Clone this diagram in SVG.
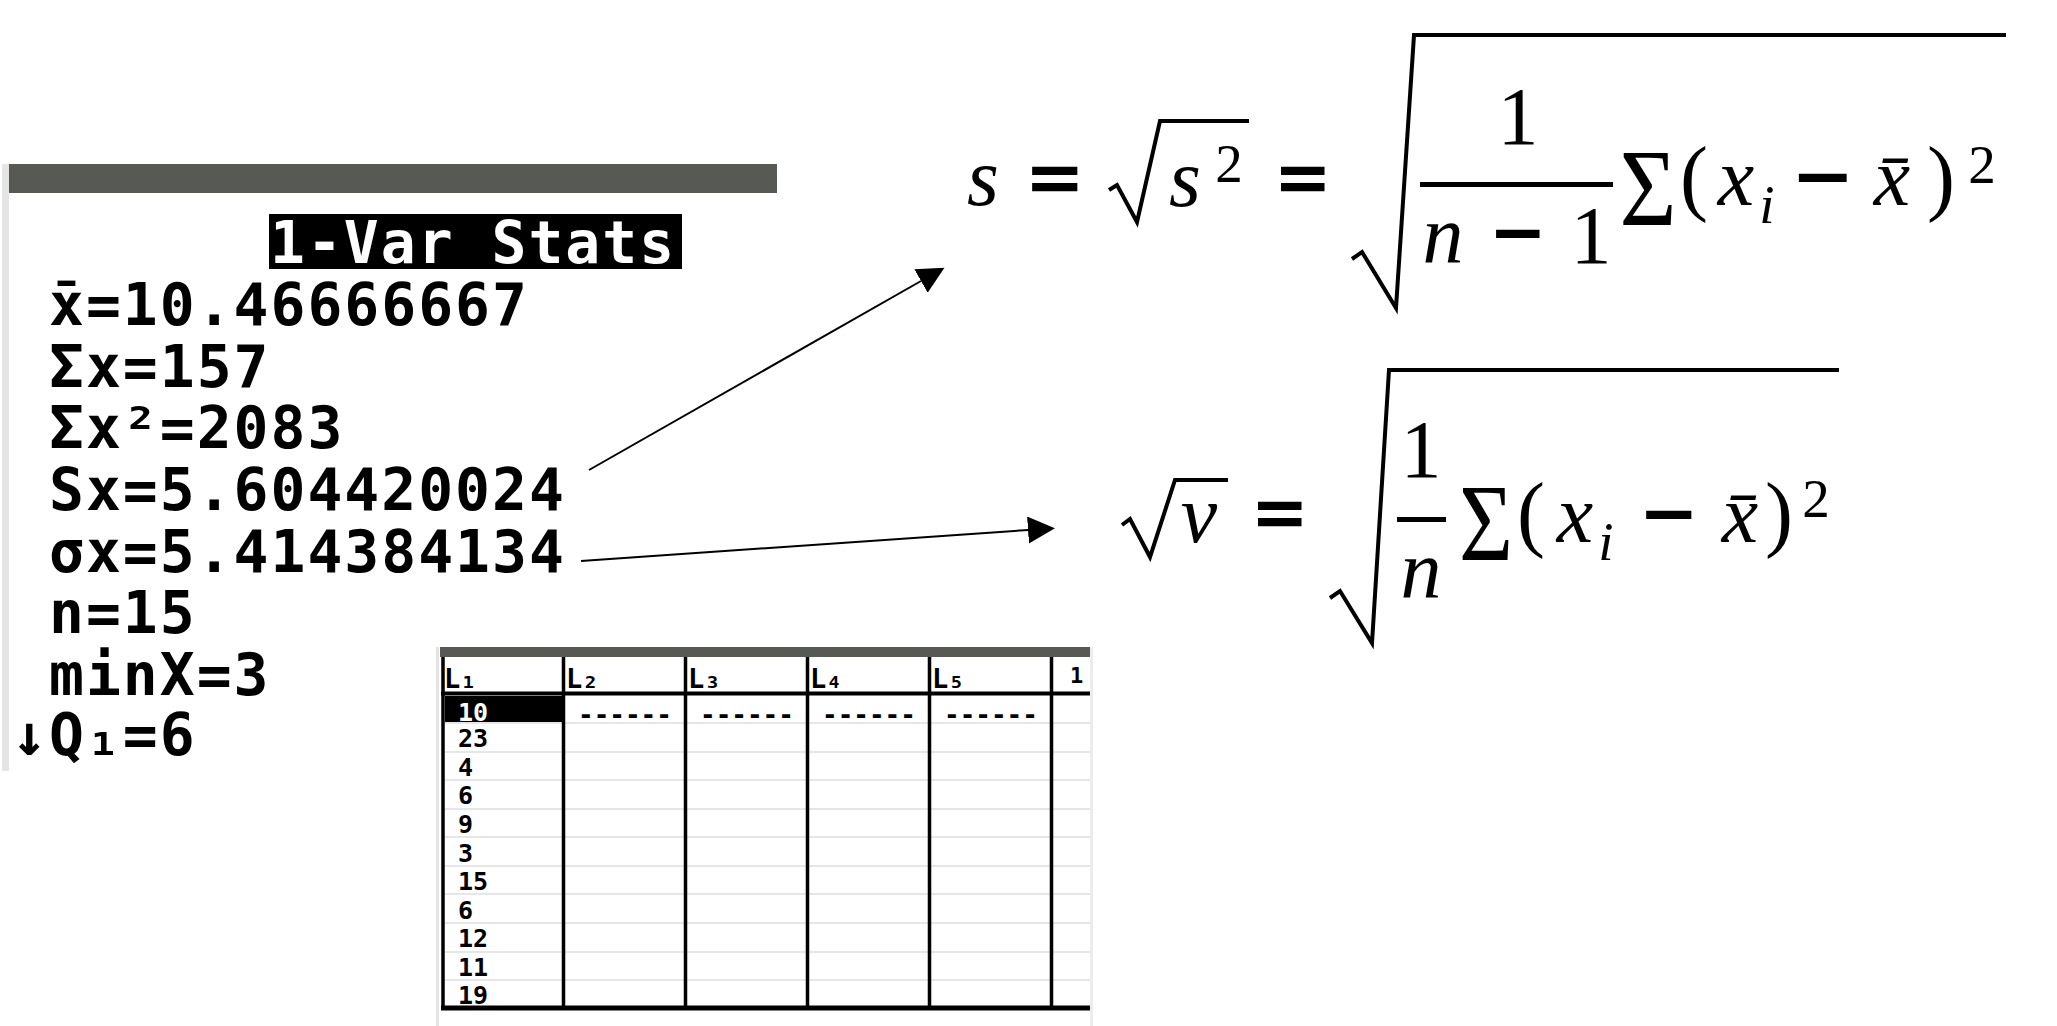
<svg xmlns="http://www.w3.org/2000/svg" width="2057" height="1026" viewBox="0 0 2057 1026">
<style>
.ti{font-family:"DejaVu Sans Mono","Liberation Mono",monospace;font-weight:bold;font-size:58px;letter-spacing:2px;fill:#000}
.tis{font-family:"DejaVu Sans Mono","Liberation Mono",monospace;font-weight:bold;font-size:25px;fill:#000}
.hdr{font-family:"DejaVu Sans Mono","Liberation Mono",monospace;font-weight:bold;font-size:27px;fill:#000}
.m{font-family:"Liberation Serif","DejaVu Serif",serif;font-size:82px;fill:#000;text-anchor:middle}
.mi{font-style:italic}
.mo{font-weight:bold;stroke:#000;stroke-width:2.5}
.sup{font-size:55px}
.par{font-size:84px}
.sig{font-size:110px}
.rad{fill:none;stroke:#000;stroke-width:4;stroke-linejoin:miter}
.bar{stroke:#000;stroke-width:5}
.vl{stroke:#000;stroke-width:3.5}
.rl{stroke:#e6e6e6;stroke-width:2}
.conn{stroke:#000;stroke-width:2;fill:none}
</style>
<defs>
<marker id="ah" markerUnits="userSpaceOnUse" markerWidth="28" markerHeight="28" refX="0" refY="13.5" orient="auto">
<path d="M0,0 L27,13.5 L0,27 z" fill="#000"/>
</marker>
</defs>
<rect width="2057" height="1026" fill="#fff"/>

<g id="calc-stats">
<rect x="2" y="164" width="7" height="607" fill="#e4e4e4"/>
<rect x="9" y="164" width="768" height="29" fill="#575955"/>
<rect x="269" y="214" width="413" height="55" fill="#000"/>
<text class="ti" x="270" y="263" style="fill:#fff">1-Var Stats</text>
<text class="ti" x="49" y="325">x̄=10.46666667</text>
<text class="ti" x="49" y="387">Σx=157</text>
<text class="ti" x="49" y="448">Σx²=2083</text>
<text class="ti" x="49" y="510">Sx=5.604420024</text>
<text class="ti" x="49" y="572">σx=5.414384134</text>
<text class="ti" x="49" y="633">n=15</text>
<text class="ti" x="49" y="695">minX=3</text>
<text class="ti" x="12" y="755">↓Q₁=6</text>
</g>

<g id="list-editor">
<line x1="437.5" y1="647" x2="437.5" y2="1026" stroke="#e3e3e3" stroke-width="3"/>
<line x1="1091.5" y1="647" x2="1091.5" y2="1026" stroke="#ececec" stroke-width="3"/>
<rect x="440" y="647" width="650" height="10" fill="#575955"/>
<g>
<line class="rl" x1="444" y1="723" x2="1090" y2="723"/>
<line class="rl" x1="444" y1="752" x2="1090" y2="752"/>
<line class="rl" x1="444" y1="780" x2="1090" y2="780"/>
<line class="rl" x1="444" y1="809" x2="1090" y2="809"/>
<line class="rl" x1="444" y1="837" x2="1090" y2="837"/>
<line class="rl" x1="444" y1="866" x2="1090" y2="866"/>
<line class="rl" x1="444" y1="894" x2="1090" y2="894"/>
<line class="rl" x1="444" y1="923" x2="1090" y2="923"/>
<line class="rl" x1="444" y1="952" x2="1090" y2="952"/>
<line class="rl" x1="444" y1="980" x2="1090" y2="980"/>
</g>
<rect x="445" y="696" width="117" height="26" fill="#000"/>
<line class="vl" x1="443" y1="657" x2="443" y2="1010"/>
<line class="vl" x1="563.5" y1="657" x2="563.5" y2="1010"/>
<line class="vl" x1="685.5" y1="657" x2="685.5" y2="1010"/>
<line class="vl" x1="807.5" y1="657" x2="807.5" y2="1010"/>
<line class="vl" x1="929.5" y1="657" x2="929.5" y2="1010"/>
<line class="vl" x1="1051.5" y1="657" x2="1051.5" y2="1010"/>
<line x1="441" y1="693.5" x2="1090" y2="693.5" stroke="#000" stroke-width="4"/>
<line x1="441" y1="1008" x2="1090" y2="1008" stroke="#000" stroke-width="5"/>
<text class="hdr" x="444" y="688">L₁</text>
<text class="hdr" x="566" y="688">L₂</text>
<text class="hdr" x="688" y="688">L₃</text>
<text class="hdr" x="810" y="688">L₄</text>
<text class="hdr" x="932" y="688">L₅</text>
<text class="tis" x="1070" y="683" style="font-size:22px">1</text>
<text class="tis" x="458" y="721" style="fill:#fff">10</text>
<text class="tis" x="458" y="747">23</text>
<text class="tis" x="458" y="776">4</text>
<text class="tis" x="458" y="804">6</text>
<text class="tis" x="458" y="833">9</text>
<text class="tis" x="458" y="862">3</text>
<text class="tis" x="458" y="890">15</text>
<text class="tis" x="458" y="919">6</text>
<text class="tis" x="458" y="947">12</text>
<text class="tis" x="458" y="976">11</text>
<text class="tis" x="458" y="1004">19</text>
<text class="tis" x="578" y="724" style="font-size:26px">------</text>
<text class="tis" x="700" y="724" style="font-size:26px">------</text>
<text class="tis" x="822" y="724" style="font-size:26px">------</text>
<text class="tis" x="944" y="724" style="font-size:26px">------</text>
</g>

<g id="formula-sample-sd">
<text class="m mi" x="983" y="205">s</text>
<text class="m mo" x="1055" y="206" textLength="52" lengthAdjust="spacingAndGlyphs">=</text>
<path class="rad" d="M1109,190 L1117,185 L1137,222 L1160,121 L1249,121"/>
<text class="m mi" x="1185" y="206">s</text>
<text class="m sup" x="1229" y="182">2</text>
<text class="m mo" x="1303" y="206" textLength="50" lengthAdjust="spacingAndGlyphs">=</text>
<path class="rad" d="M1352,259 L1362,252 L1396,308 L1414,35 L2006,35"/>
<line class="bar" x1="1420" y1="184.5" x2="1613" y2="184.5"/>
<text class="m" x="1518" y="144">1</text>
<text class="m mi" x="1443" y="262">n</text>
<text class="m mo" x="1518" y="261" textLength="50" lengthAdjust="spacingAndGlyphs">−</text>
<text class="m" x="1591" y="263">1</text>
<text class="m sig" x="1648" y="225" textLength="57" lengthAdjust="spacingAndGlyphs">Σ</text>
<text class="m par" x="1694" y="205">(</text>
<text class="m mi" x="1736" y="205">x</text>
<text class="m mi sup" x="1767" y="223">i</text>
<text class="m mo" x="1823" y="205" textLength="55" lengthAdjust="spacingAndGlyphs">−</text>
<text class="m mi" x="1892" y="205">x̄</text>
<text class="m par" x="1941" y="205">)</text>
<text class="m sup" x="1982" y="183">2</text>
</g>

<g id="formula-pop-sd">
<path class="rad" d="M1122,525 L1130,519 L1150,557 L1175,480 L1228,480"/>
<text class="m mi" x="1199" y="542">v</text>
<text class="m mo" x="1280" y="541" textLength="50" lengthAdjust="spacingAndGlyphs">=</text>
<path class="rad" d="M1330,598 L1340,591 L1372,643 L1389,370 L1839,370"/>
<text class="m" x="1421" y="477">1</text>
<line class="bar" x1="1397" y1="519.5" x2="1446" y2="519.5"/>
<text class="m mi" x="1421" y="597">n</text>
<text class="m sig" x="1486" y="560" textLength="54" lengthAdjust="spacingAndGlyphs">Σ</text>
<text class="m par" x="1531" y="541">(</text>
<text class="m mi" x="1575" y="542">x</text>
<text class="m mi sup" x="1606" y="560">i</text>
<text class="m mo" x="1669" y="542" textLength="52" lengthAdjust="spacingAndGlyphs">−</text>
<text class="m mi" x="1740" y="542">x̄</text>
<text class="m par" x="1779" y="541">)</text>
<text class="m sup" x="1816" y="517">2</text>
</g>

<g id="connectors">
<line class="conn" x1="589" y1="470" x2="921" y2="281" marker-end="url(#ah)"/>
<line class="conn" x1="581" y1="561" x2="1028" y2="530" marker-end="url(#ah)"/>
</g>
</svg>
